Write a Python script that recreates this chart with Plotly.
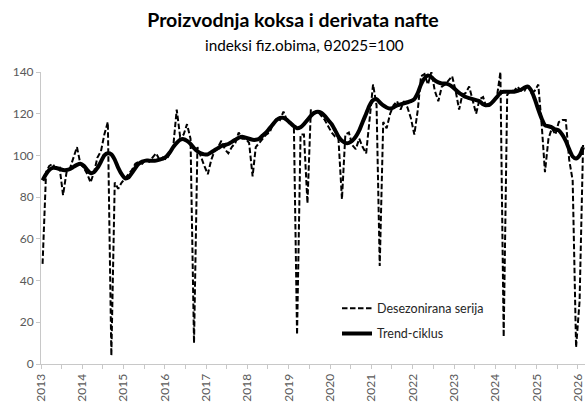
import pandas as pd
import plotly.graph_objects as go

# ---- data (monthly, Jan 2013 .. Feb 2026) ----
desez = [
    48, 92, 95, 96, 93, 94, 81, 92, 94, 99, 104, 96,
    94, 91, 87, 92, 99, 102, 110, 116, 4, 87, 84, 87,
    89, 91, 93, 96, 97, 96, 98, 97, 99, 101, 98, 99,
    98, 101, 104, 122, 109, 110, 115, 108, 10, 104, 99, 95,
    91, 98, 102, 104, 107, 103, 101, 104, 106, 111, 108, 108,
    106, 90, 104, 106, 108, 110, 111, 115, 118, 117, 121, 117,
    116, 114, 14, 110, 110, 77, 122, 120, 121, 119, 117, 114,
    111, 109, 108, 79, 110, 111, 105, 103, 108, 104, 101, 117,
    134, 124, 47, 116, 113, 120, 124, 126, 122, 126, 123, 118,
    110, 122, 138, 139, 134, 140, 131, 126, 133, 134, 136, 138,
    131, 122, 129, 130, 133, 126, 120, 127, 128, 123, 124, 126,
    128, 140, 13, 129, 131, 131, 133, 131, 131, 134, 130, 131,
    134, 114, 92, 108, 113, 110, 116, 117, 117, 98, 88, 8,
    30, 105,
]
trend = [
    88, 91, 93, 94, 94, 93.5, 93, 93, 93.5, 94.5, 95.5, 96,
    95, 93, 91.5, 92, 94, 97, 100, 101, 100.5, 98, 94, 91,
    89, 89.5, 91.5, 94, 96, 97, 97.5, 97.5, 97.5, 97.5, 98, 98.5,
    99.5, 101.5, 104, 106, 107.5, 107.8, 107, 105.5, 103.5, 102, 101, 100.5,
    100.5, 101.5, 102.5, 103.5, 104.5, 105, 105.5, 106.5, 107.5, 108.5, 109, 108.5,
    108, 107.5, 107.5, 108, 109.5, 111, 113, 115, 117, 118, 118, 117,
    115.5, 114, 113, 113.5, 115, 117, 119, 120.5, 121, 120.5, 119, 117,
    115, 112, 109, 107, 106, 106, 107, 109, 112, 116, 120, 124,
    126.5, 127, 125.5, 124, 123, 122.5, 123, 124, 124.5, 125, 125.5, 126,
    127, 130, 134, 137, 138.3, 137.5, 136, 135, 134.5, 134.5, 134, 133,
    131.5, 130, 129, 128, 127.5, 127, 126.5, 126, 124.5, 124, 124.5, 126,
    128, 130, 130.5, 130.5, 130.5, 130.5, 131, 131.5, 132.5, 133, 131, 127,
    122, 117.5, 114.5, 114, 113.5, 112.5, 112, 110, 107, 103, 99.5, 98.5,
    100, 104,
]
year_ticks = [str(y) for y in range(2013, 2027)]
y_ticks = [0, 20, 40, 60, 80, 100, 120, 140]
series_names = ["Desezonirana serija", "Trend-ciklus"]
title_text = "Proizvodnja koksa i derivata nafte"
subtitle_text = "indeksi fiz.obima, θ2025=100"

dates = [pd.Timestamp(d.year, d.month, 15)
         for d in pd.date_range("2013-01-01", periods=len(desez), freq="MS")]

FONT = "Lato"
TXT = "#595959"
AX = "#c8c8c8"

fig = go.Figure()
fig.add_trace(go.Scatter(
    x=dates, y=desez, mode="lines", name=series_names[0], legendgroup="a",
    line=dict(color="black", width=2, dash="5.5px,2.5px"),
))
fig.add_trace(go.Scatter(
    x=dates, y=trend, mode="lines", name=series_names[1], legendgroup="b",
    line=dict(color="black", width=4, shape="spline", smoothing=0.6),
))

fig.update_layout(
    width=586, height=403, autosize=False,
    margin=dict(l=41, r=1, t=72, b=32, pad=0),
    paper_bgcolor="white", plot_bgcolor="white",
    font=dict(family=FONT, size=12, color=TXT),
    title=dict(text="<b>" + title_text + "</b>", x=0.5, xref="container", xanchor="center",
               y=1 - 20 / 403, yref="container", yanchor="middle",
               font=dict(family=FONT, size=19.5, color="black")),
    annotations=[dict(text=subtitle_text, xref="paper", yref="paper",
                      x=(304 - 41) / 544, y=1 + (72 - 44) / 299, xanchor="center", yanchor="middle",
                      showarrow=False, font=dict(family=FONT, size=15.3, color="black"))],
    legend=dict(x=(337 - 41) / 544, xanchor="left", y=(371 - 299) / 299, yanchor="top",
                bgcolor="rgba(0,0,0,0)", traceorder="grouped", tracegroupgap=6,
                font=dict(family=FONT, size=12.5, color="#262626")),
    showlegend=True,
)
fig.update_xaxes(
    type="date", range=["2013-01-01", "2026-03-04"],
    tickvals=[pd.Timestamp(int(y), 1, 1) for y in year_ticks], ticktext=year_ticks,
    tickangle=-90, ticks="outside", ticklen=4, tickcolor=AX,
    showline=True, linecolor=AX, linewidth=1, showgrid=False, zeroline=False,
    minor=dict(dtick="M6", tick0="2013-01-01", ticks="outside", ticklen=4, tickcolor=AX, showgrid=False),
    tickfont=dict(family=FONT, size=12, color=TXT),
)
fig.update_yaxes(
    range=[0, 140], tickvals=y_ticks, ticks="outside", ticklen=4, tickcolor=AX,
    showline=True, linecolor=AX, linewidth=1, showgrid=False, zeroline=False,
    tickfont=dict(family=FONT, size=12, color=TXT),
)

fig.write_html("out.html", config={"displayModeBar": False},
               post_script="document.body.style.margin='0';")
